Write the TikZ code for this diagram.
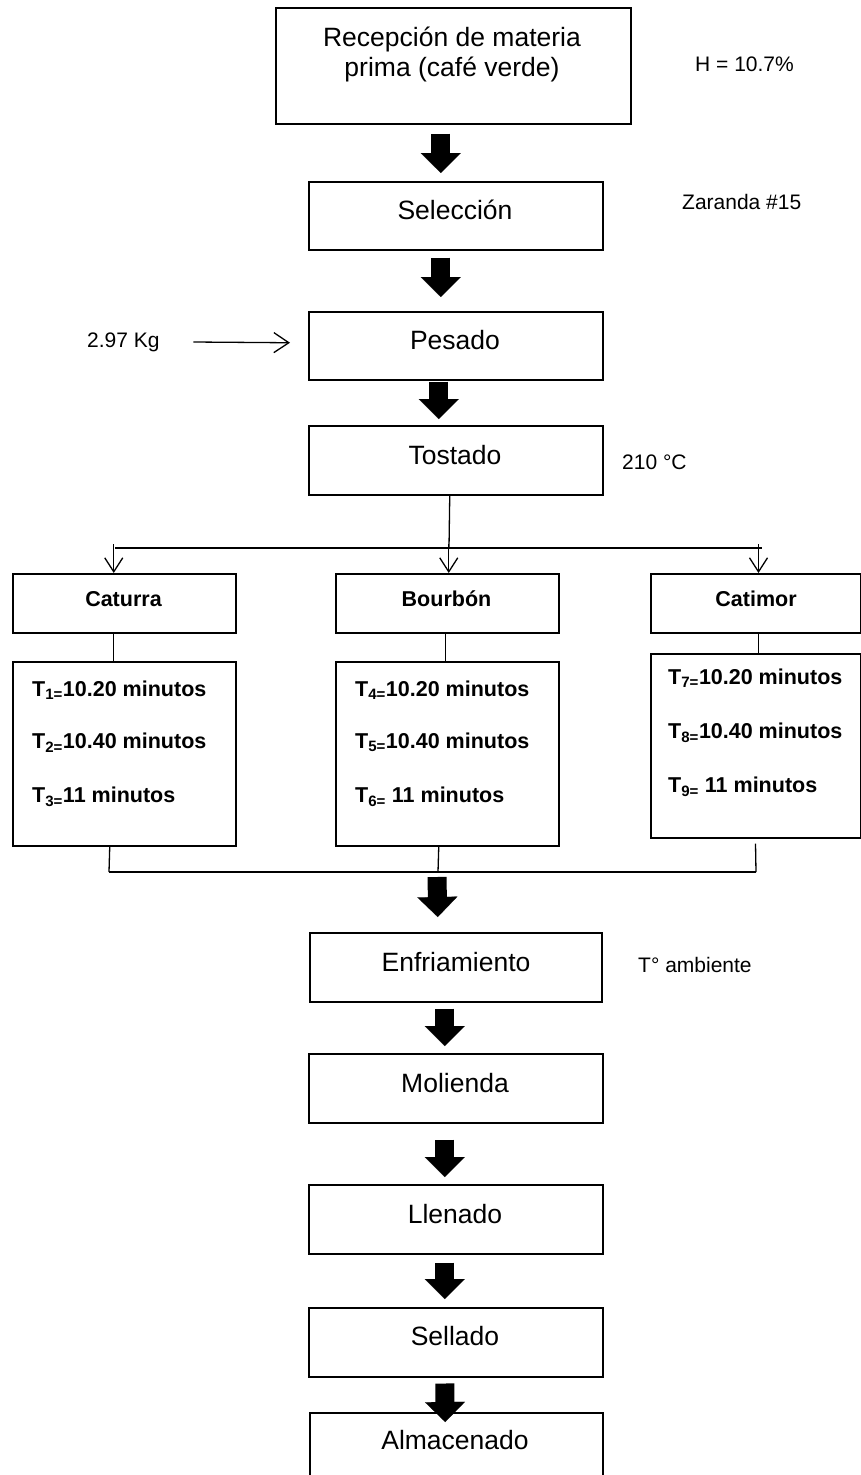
\documentclass[tikz,border=0pt]{standalone}
\usepackage{fontspec}
\setmainfont{Liberation Sans}
\usetikzlibrary{arrows.meta,calc}
\begin{document}
\begin{tikzpicture}[x=1pt,y=-1pt,
  box/.style={draw,line width=1.5pt,rectangle,inner sep=0pt,anchor=north west},
  maintxt/.style={font=\fontsize{26.5}{31}\selectfont,inner sep=0pt,text height=19pt,text depth=0pt},
  sidetxt/.style={font=\fontsize{21}{25}\selectfont,inner sep=0pt,text height=15pt,text depth=0pt,anchor=west},
  boldtxt/.style={font=\bfseries\fontsize{21.5}{25}\selectfont,inner sep=0pt,text height=15.4pt,text depth=0pt},
  tline/.style={boldtxt,anchor=west},
  bigarrow/.style={line width=19pt,-{Triangle[length=20pt,width=40pt,line width=0.1pt]}},
  thinline/.style={line width=1.3pt},
  thickline/.style={line width=2pt},
  openarrow/.style={line width=1.3pt,-{Straight Barb[length=14pt,width=18pt,line width=1.3pt]}},
  kgarrow/.style={line width=1.3pt,-{Straight Barb[length=15pt,width=20pt,line width=1.3pt]}}]
\fill[white] (0,0) rectangle (861,1475);
\useasboundingbox (0,0) rectangle (861,1475);

% Recepcion
\node[box,minimum width=355pt,minimum height=116pt] (rec) at (275,7) {};
\node[maintxt] (rect1) at (452,37) {Recepción de materia};
\node[maintxt] (rect2) at (452,67) {prima (café verde)};
\node[sidetxt] (hum) at (695,64) {H = 10.7\%};

% Seleccion
\node[box,minimum width=294pt,minimum height=68pt] (sel) at (308,181) {};
\node[maintxt] (selt) at (455,210) {Selección};
\node[sidetxt] (zar) at (682,202) {Zaranda \#15};
\draw[bigarrow] ([shift={(-12.5,9)}]rec.south) -- ([shift={(-15,-8)}]sel.north);

% Pesado
\node[box,minimum width=294pt,minimum height=68pt] (pes) at (308,311) {};
\node[maintxt] (pest) at (455,340) {Pesado};
\draw[bigarrow] ([shift={(-15,7)}]sel.south) -- ([shift={(-15,-14)}]pes.north);
\node[sidetxt] (kg) at (87,340) {2.97 Kg};
\draw[kgarrow] ([shift={(33.5,2)}]kg.east) -- ([shift={(-18,-3)}]pes.west);

% Tostado
\node[box,minimum width=294pt,minimum height=69pt] (tos) at (308,425) {};
\node[maintxt] (tost) at (455,455) {Tostado};
\node[sidetxt] (temp) at (622,462) {210 °C};
\draw[bigarrow] ([shift={(-17,1)}]pes.south) -- ([shift={(-17,-6)}]tos.north);

% Branching
\coordinate (bl) at (115,548);
\coordinate (br) at (762,548);
\coordinate (bm) at (449,548);
\draw[thinline] ([xshift=-6]tos.south) -- (bm);
\draw[thickline] (bl) -- (br);

% Variety headers
\node[box,minimum width=223pt,minimum height=59pt] (cat) at (12,573) {};
\node[box,minimum width=223pt,minimum height=59pt] (bou) at (335,573) {};
\node[box,minimum width=209.5pt,minimum height=59pt] (ctm) at (650,573) {};
\node[boldtxt] (catt) at (123.5,599) {Caturra};
\node[boldtxt] (bout) at (446.5,599) {Bourbón};
\node[boldtxt] (ctmt) at (756,599) {Catimor};

\draw[openarrow] ([shift={(-10.5,-29)}]cat.north) -- ([xshift=-10.5]cat.north);
\draw[openarrow] ([shift={(1.5,-29)}]bou.north) -- ([xshift=1.5]bou.north);
\draw[openarrow] ([shift={(3,-29)}]ctm.north) -- ([xshift=3]ctm.north);

% Time boxes
\node[box,minimum width=223pt,minimum height=184pt] (catT) at (12,661) {};
\node[box,minimum width=223pt,minimum height=184pt] (bouT) at (335,661) {};
\node[box,minimum width=209.5pt,minimum height=184pt] (ctmT) at (650,653) {};

\draw[thinline] ([xshift=-10.5]cat.south) -- ([xshift=-10.5]catT.north);
\draw[thinline] ([xshift=-1.5]bou.south) -- ([xshift=-1.5]bouT.north);
\draw[thinline] ([xshift=3]ctm.south) -- ([xshift=3]ctmT.north);

\node[tline] (t1) at (32,689) {T\textsubscript{1=}10.20 minutos};
\node[tline] (t2) at (32,741) {T\textsubscript{2=}10.40 minutos};
\node[tline] (t3) at (32,795) {T\textsubscript{3=}11 minutos};
\node[tline] (t4) at (355,689) {T\textsubscript{4=}10.20 minutos};
\node[tline] (t5) at (355,741) {T\textsubscript{5=}10.40 minutos};
\node[tline] (t6) at (355,795) {T\textsubscript{6=} 11 minutos};
\node[tline] (t7) at (668,677) {T\textsubscript{7=}10.20 minutos};
\node[tline] (t8) at (668,731) {T\textsubscript{8=}10.40 minutos};
\node[tline] (t9) at (668,785) {T\textsubscript{9=} 11 minutos};

% Merge
\coordinate (ml) at (109,872);
\coordinate (mm) at (438,872);
\coordinate (mr) at (756,872);
\draw[thinline] ([xshift=-14.5]catT.south) -- (ml);
\draw[thinline] ([xshift=-8.5]bouT.south) -- (mm);
\draw[thinline] ([shift={(0,5)}]ctmT.south) -- (mr);
\draw[thickline] (ml) -- (mr);

% Enfriamiento
\node[box,minimum width=292pt,minimum height=69pt] (enf) at (309,932) {};
\node[maintxt] (enft) at (456,962) {Enfriamiento};
\node[sidetxt] (amb) at (638,965) {T° ambiente};
\draw[bigarrow] ([shift={(-1,5)}]mm) -- ([shift={(-18,-15)}]enf.north);

% Molienda
\node[box,minimum width=294pt,minimum height=69pt] (mol) at (308,1053) {};
\node[maintxt] (molt) at (455,1083) {Molienda};
\draw[bigarrow] ([shift={(-11,6)}]enf.south) -- ([shift={(-11,-7)}]mol.north);

% Llenado
\node[box,minimum width=294pt,minimum height=69pt] (lle) at (308,1184) {};
\node[maintxt] (llet) at (455,1214) {Llenado};
\draw[bigarrow] ([shift={(-11,16)}]mol.south) -- ([shift={(-11,-7)}]lle.north);

% Sellado
\node[box,minimum width=294pt,minimum height=69pt] (sell) at (308,1307) {};
\node[maintxt] (sellt) at (455,1336) {Sellado};
\draw[bigarrow] ([shift={(-11,8)}]lle.south) -- ([shift={(-11,-8)}]sell.north);

% Almacenado
\node[box,minimum width=293pt,minimum height=80pt] (alm) at (309,1412) {};
\node[maintxt] (almt) at (455,1440) {Almacenado};
\draw[bigarrow] ([shift={(-11,6)}]sell.south) -- ([shift={(-11,10)}]alm.north);
\end{tikzpicture}
\end{document}
